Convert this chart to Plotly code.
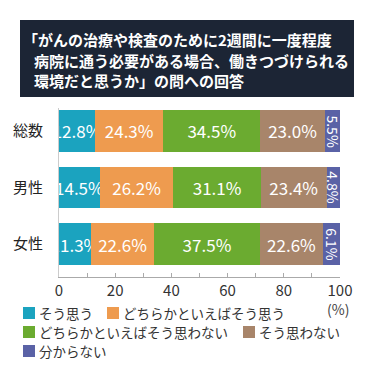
import plotly.graph_objects as go

categories = ["総数", "男性", "女性"]
series_names = ["そう思う", "どちらかといえばそう思う", "どちらかといえばそう思わない", "そう思わない", "分からない"]
values = {
    "そう思う": [12.8, 14.5, 11.3],
    "どちらかといえばそう思う": [24.3, 26.2, 22.6],
    "どちらかといえばそう思わない": [34.5, 31.1, 37.5],
    "そう思わない": [23.0, 23.4, 22.6],
    "分からない": [5.5, 4.8, 6.1],
}
colors = ["#1ba3bf", "#ee9b4f", "#6bab30", "#a8856a", "#5a62a6"]
x_ticks = [0, 20, 40, 60, 80, 100]
title_lines = [
    "「がんの治療や検査のために2週間に一度程度",
    "病院に通う必要がある場合、働きつづけられる",
    "環境だと思うか」の問への回答",
]

FONT = "Noto Sans CJK JP"
OFF = 8  # page body margin
FW = FH = 375 - OFF
L, R, T, B = 59 - OFF, 340 - OFF, 108 - OFF, 277 - OFF
W, H = R - L, B - T


def px(x):
    return (x - OFF - L) / W


def py(y):
    return (B - (y - OFF)) / H


fig = go.Figure()
for i, name in enumerate(series_names[:-1]):
    fig.add_trace(go.Bar(
        y=categories, x=values[name], name=name, orientation="h",
        marker=dict(color=colors[i], line=dict(width=0)),
        width=0.74,
        texttemplate="%{x:.1f}%",
        textposition="inside",
        insidetextanchor="middle",
        constraintext="none",
        textangle=0,
        textfont=dict(color="white", size=17, family=FONT),
        cliponaxis=False,
        showlegend=False,
    ))

last = series_names[-1]
fig.add_trace(go.Bar(
    y=categories, x=values[last], name=last, orientation="h",
    marker=dict(color=colors[-1], line=dict(width=0)),
    width=0.74, textposition="none", showlegend=False,
))

annotations = []
# rotated labels for the narrow last segment, positioned from the data
for j, cat in enumerate(categories):
    start = sum(values[n][j] for n in series_names[:-1])
    v = values[last][j]
    annotations.append(dict(text=f"{v:.1f}%", x=start + v / 2, y=cat, xref="x", yref="y",
                            textangle=90, showarrow=False, xanchor="center", yanchor="middle",
                            font=dict(color="white", size=14, family=FONT)))

shapes = [dict(type="rect", xref="paper", yref="paper",
               x0=px(20), x1=px(354), y0=py(97), y1=py(20),
               fillcolor="#1c2535", line=dict(width=0), layer="below")]
title_x = [21, 32, 32]
title_y = [40, 60, 80]
for i, line in enumerate(title_lines):
    annotations.append(dict(text=line, xref="paper", yref="paper",
                            x=px(title_x[i]), y=py(title_y[i]), xanchor="left", yanchor="middle",
                            showarrow=False,
                            font=dict(family=FONT, size=15, color="white", weight="bold")))

annotations.append(dict(text="(%)", xref="paper", yref="paper", x=px(338), y=py(309),
                        xanchor="center", yanchor="middle", showarrow=False,
                        font=dict(family=FONT, size=14, color="#444")))

# manual legend
leg_pos = [(23, 313), (107, 313), (23, 332), (243, 332), (23, 351)]
for i, name in enumerate(series_names):
    sx, sy = leg_pos[i]
    shapes.append(dict(type="rect", xref="paper", yref="paper",
                       x0=px(sx), x1=px(sx + 12), y0=py(sy + 6), y1=py(sy - 6),
                       fillcolor=colors[i], line=dict(width=0)))
    annotations.append(dict(text=name, xref="paper", yref="paper",
                            x=px(sx + 14), y=py(sy), xanchor="left", yanchor="middle",
                            showarrow=False,
                            font=dict(family=FONT, size=13.5, color="#333")))

fig.update_layout(
    barmode="stack",
    width=FW, height=FH,
    margin=dict(l=L, r=FW - R, t=T, b=FH - B, autoexpand=False),
    paper_bgcolor="white", plot_bgcolor="white",
    font=dict(family=FONT, color="#333"),
    shapes=shapes, annotations=annotations,
    xaxis=dict(range=[0, 100], tickvals=x_ticks, ticks="inside", ticklen=4, tickcolor="#aaa",
               minor=dict(dtick=10, ticks="inside", ticklen=4, tickcolor="#aaa"),
               showline=True, linecolor="#aaa", linewidth=1, showgrid=False, zeroline=False,
               tickfont=dict(size=15, color="#333", family=FONT)),
    yaxis=dict(type="category", range=[2.584, -0.407], showline=True, linecolor="#ccc",
               linewidth=1, showgrid=False, ticks="", ticklabelstandoff=12,
               tickfont=dict(size=15, color="#222", family=FONT)),
)

fig.write_html("out.html")
